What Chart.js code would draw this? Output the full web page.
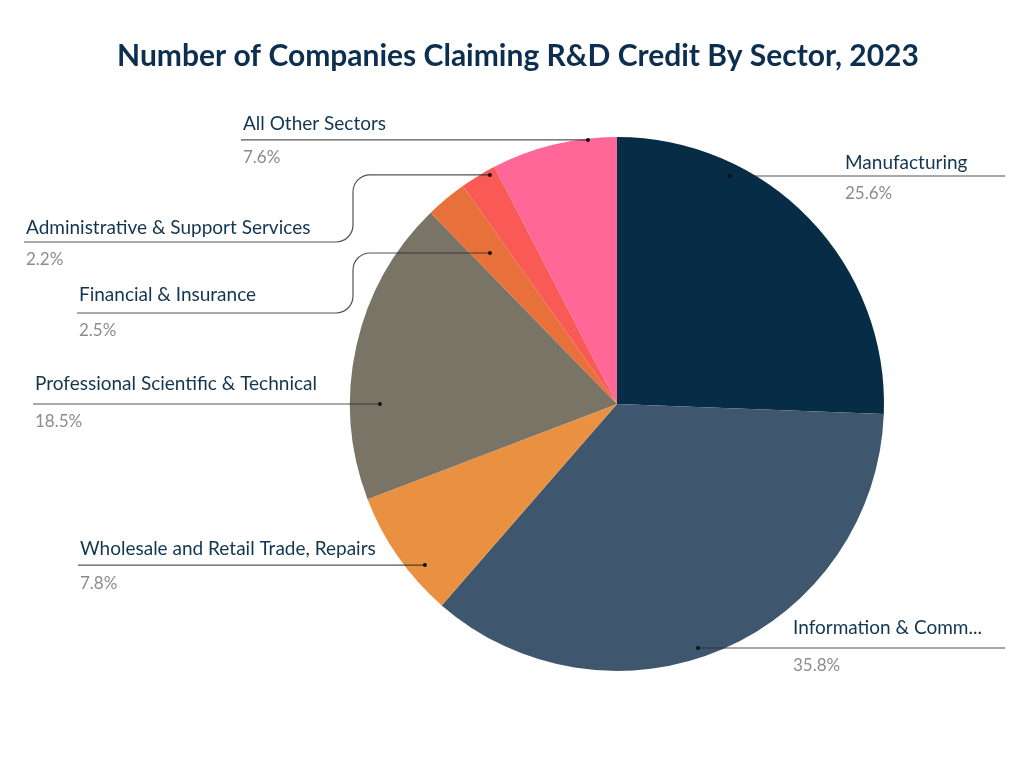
<!DOCTYPE html>
<html>
<head>
<meta charset="utf-8">
<title>Number of Companies Claiming R&amp;D Credit By Sector, 2023</title>
<script src="https://cdn.jsdelivr.net/npm/chart.js@4.4.1/dist/chart.umd.min.js"></script>
<style>
  html, body { margin: 0; padding: 0; background: #ffffff; }
  #wrap { width: 1024px; height: 768px; }
</style>
</head>
<body>
<div id="wrap"><canvas id="sectorChart" width="1024" height="768"></canvas></div>
<script>
const chartTitle = 'Number of Companies Claiming R&D Credit By Sector, 2023';

const sectors = [
  'Manufacturing',
  'Information & Comm...',
  'Wholesale and Retail Trade, Repairs',
  'Professional Scientific & Technical',
  'Financial & Insurance',
  'Administrative & Support Services',
  'All Other Sectors'
];
const shares = [25.6, 35.8, 7.8, 18.5, 2.5, 2.2, 7.6];
const sliceColors = ['#072c45', '#3e576e', '#ea9141', '#7a7467', '#e8703a', '#fa5a55', '#ff6799'];

// where each leader line starts inside its slice and where its label sits
// t = position along the slice angle, rf = fraction of the radius, lift = label height above the line
const callouts = [
  { t: 0.286, rf: 0.953, side: 'right', endX: 1005, textX: 845, lift: 13 },
  { t: 0.539, rf: 0.963, side: 'right', endX: 1005, textX: 793, lift: 20 },
  { t: 0.320, rf: 0.939, side: 'left', endX: 78, lift: 16 },
  { t: 0.3135, rf: 0.888, side: 'left', endX: 33, lift: 20 },
  { t: 0.468, rf: 0.739, side: 'left', endX: 77, elbowX: 353, dropY: 313, lift: 18 },
  { t: 0.790, rf: 0.981, side: 'left', endX: 24, elbowX: 353, dropY: 242, lift: 14 },
  { t: 0.771, rf: 0.995, side: 'left', endX: 241, lift: 16 }
];

const calloutPlugin = {
  id: 'callouts',
  afterDraw(chart) {
    const ctx = chart.ctx;
    const arcs = chart.getDatasetMeta(0).data;

    ctx.save();
    ctx.fillStyle = '#0d2f4f';
    ctx.font = 'bold 30px Lato, "Open Sans", sans-serif';
    ctx.textAlign = 'center';
    ctx.textBaseline = 'middle';
    ctx.fillText(chartTitle, 518, 56);

    arcs.forEach((arc, i) => {
      const c = callouts[i];
      const a = arc.startAngle + c.t * (arc.endAngle - arc.startAngle);
      const px = arc.x + Math.cos(a) * arc.outerRadius * c.rf;
      const py = arc.y + Math.sin(a) * arc.outerRadius * c.rf;
      let lineY = py;

      ctx.strokeStyle = 'rgba(40, 40, 40, 0.8)';
      ctx.lineWidth = 1.2;
      ctx.beginPath();
      ctx.moveTo(px, py);
      if (c.elbowX !== undefined) {
        ctx.arcTo(c.elbowX, py, c.elbowX, c.dropY, 17);
        ctx.arcTo(c.elbowX, c.dropY, c.endX, c.dropY, 17);
        ctx.lineTo(c.endX, c.dropY);
        lineY = c.dropY;
      } else {
        ctx.lineTo(c.endX, py);
      }
      ctx.stroke();

      ctx.fillStyle = '#111111';
      ctx.beginPath();
      ctx.arc(px, py, 2, 0, Math.PI * 2);
      ctx.fill();

      const tx = c.side === 'right' ? c.textX : c.endX + 2;
      ctx.textAlign = 'left';
      ctx.textBaseline = 'middle';
      ctx.fillStyle = '#123652';
      ctx.font = '19px Lato, "Open Sans", sans-serif';
      ctx.fillText(sectors[i], tx, lineY - c.lift);
      ctx.fillStyle = '#8c8c8c';
      ctx.font = '17px Lato, "Open Sans", sans-serif';
      ctx.fillText(shares[i].toFixed(1) + '%', tx, lineY + 18);
    });
    ctx.restore();
  }
};

new Chart(document.getElementById('sectorChart').getContext('2d'), {
  type: 'pie',
  data: {
    labels: sectors,
    datasets: [{
      data: shares,
      backgroundColor: sliceColors,
      borderWidth: 0
    }]
  },
  options: {
    responsive: false,
    animation: false,
    layout: {
      padding: { left: 350, right: 140, top: 137, bottom: 97 }
    },
    plugins: {
      legend: { display: false },
      tooltip: { enabled: false },
      title: { display: false }
    }
  },
  plugins: [calloutPlugin]
});
</script>
</body>
</html>
